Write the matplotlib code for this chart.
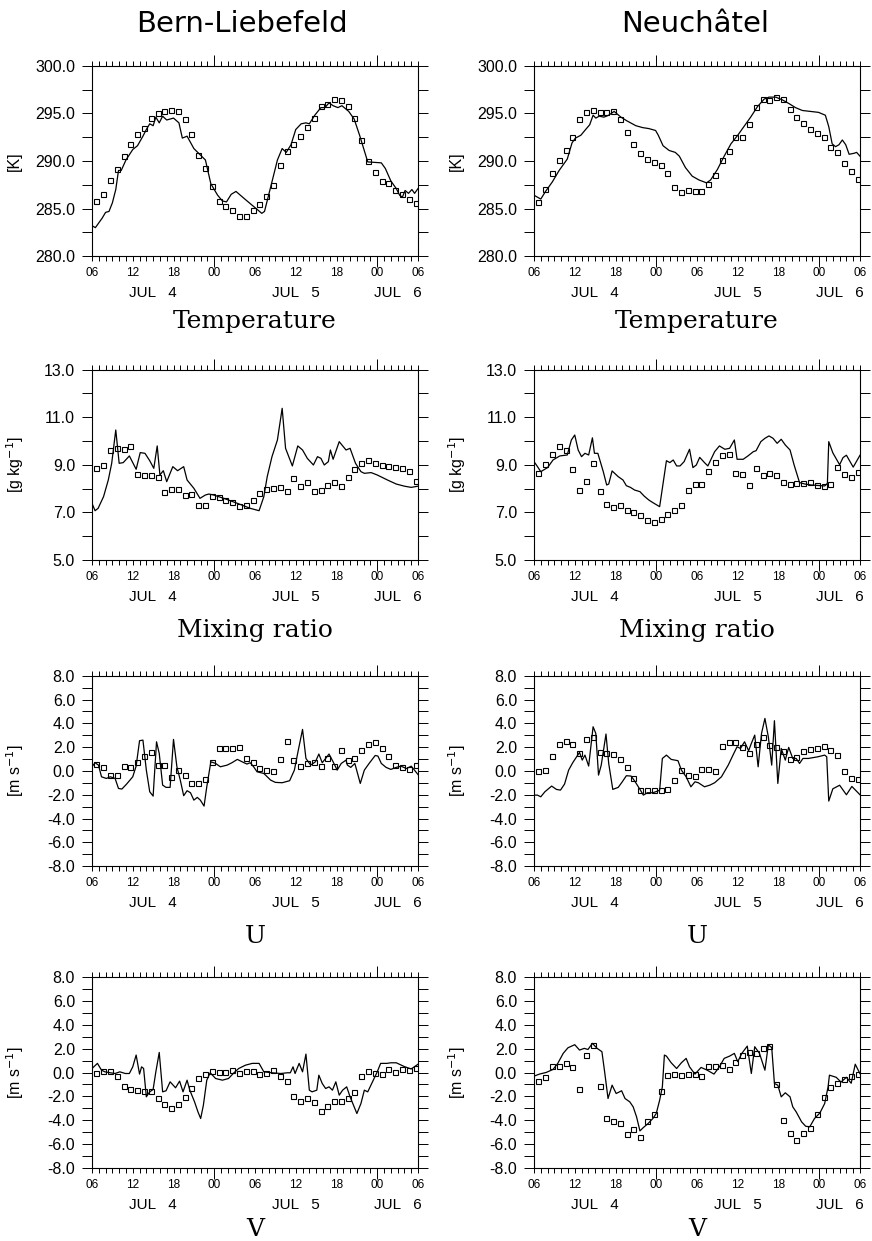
import numpy as np
import matplotlib
matplotlib.use("Agg")
import matplotlib.pyplot as plt
from matplotlib.ticker import MultipleLocator, FixedLocator, FuncFormatter, FormatStrFormatter
from matplotlib.transforms import blended_transform_factory

# time axis: hours since 06 UTC, 4 July (0 .. 48)
obs_hours = np.arange(48) + 0.65
hour_labels = ['06', '12', '18', '00', '06', '12', '18', '00', '06']
midnights = [18, 42]
day_names = ['JUL   4', 'JUL   5', 'JUL   6']
day_edges = [0, 18, 42, 48]

stations = ['Bern-Liebefeld', 'Neuchâtel']
variables = ['Temperature', 'Mixing ratio', 'U', 'V']
units = ['[K]', r'[g kg$^{-1}$]', r'[m s$^{-1}$]', r'[m s$^{-1}$]']
y_limits = [(280, 300), (5, 13), (-8, 8), (-8, 8)]
y_major = [5, 2, 2, 2]
y_minor = [2.5, 1, 1, 1]

# ---- Temperature [K]
bern_t_obs = [285.8, 286.5, 288.0, 289.2, 290.5, 291.8, 292.8, 293.5, 294.5, 295.0,
              295.2, 295.3, 295.2, 294.4, 292.8, 290.6, 289.3, 287.4, 285.8, 285.3,
              284.8, 284.2, 284.2, 284.8, 285.5, 286.3, 287.5, 289.6, 291.0, 291.8,
              292.6, 293.6, 294.5, 295.8, 296.0, 296.5, 296.4, 295.8, 294.5, 292.2,
              290.0, 288.8, 287.9, 287.7, 287.0, 286.5, 286.0, 285.6]
bern_t_mod_h = [0.0, 0.5, 1.5, 2.0, 2.5, 3.0, 3.5, 3.9, 4.3, 5.0, 6.0, 6.7, 7.5, 8.0, 8.5,
                9.0, 9.4, 9.9, 10.4, 11.0, 12.0, 12.8, 13.3, 14.0, 15.0, 16.7, 17.5, 18.5,
                19.2, 19.8, 20.5, 21.2, 22.5, 24.0, 25.0, 25.4, 26.6, 27.3, 28.0, 28.6,
                29.3, 30.0, 30.8, 31.5, 32.0, 32.8, 33.7, 34.3, 34.9, 35.5, 36.2, 36.8,
                37.8, 38.6, 39.4, 40.3, 40.6, 42.6, 43.2, 44.0, 44.8, 45.3, 45.7, 46.1,
                46.6, 47.1, 47.5, 48.0]
bern_t_mod = [283.2, 283.0, 284.0, 284.6, 284.7, 285.6, 287.0, 289.0, 289.0, 290.1, 291.2,
              291.6, 292.6, 293.3, 293.9, 293.7, 294.6, 294.0, 294.7, 294.3, 294.5, 294.0,
              292.4, 292.6, 291.3, 290.1, 287.6, 286.4, 285.8, 285.7, 286.5, 286.8, 286.0,
              285.1, 284.5, 284.7, 288.1, 290.1, 291.3, 290.9, 291.7, 293.3, 293.9, 294.0,
              293.9, 294.8, 295.6, 295.6, 296.1, 295.8, 295.6, 295.8, 295.2, 294.4, 292.7,
              290.6, 289.9, 289.8, 289.2, 287.9, 287.1, 286.4, 286.2, 286.9, 286.6, 287.0,
              286.6, 287.1]

neu_t_obs = [285.7, 287.1, 288.7, 290.1, 291.1, 292.5, 294.4, 295.1, 295.3, 295.1,
             295.1, 295.2, 294.4, 293.0, 291.8, 290.8, 290.2, 289.9, 289.6, 288.7,
             287.3, 286.7, 287.0, 286.8, 286.8, 287.6, 288.5, 290.1, 291.0, 292.5,
             292.5, 293.9, 295.7, 296.5, 296.4, 296.7, 296.5, 295.5, 294.6, 294.0,
             293.4, 292.9, 292.5, 291.5, 290.9, 289.8, 288.9, 288.1]
neu_t_mod_h = [0.0, 0.5, 1.0, 1.7, 2.7, 3.7, 4.9, 5.6, 6.1, 6.9, 7.6, 8.2, 8.7, 9.1, 9.6,
               10.3, 11.0, 11.8, 12.8, 13.7, 15.0, 16.0, 16.9, 17.9, 18.3, 19.0, 19.9,
               20.8, 21.4, 22.3, 23.3, 24.3, 25.4, 26.0, 27.0, 28.0, 29.0, 30.0, 30.9,
               31.9, 32.9, 33.9, 34.6, 35.6, 36.6, 37.6, 38.5, 39.5, 40.7, 41.9, 42.9,
               43.4, 43.9, 44.4, 44.9, 45.4, 45.9, 46.4, 47.1, 47.5, 48.0]
neu_t_mod = [286.4, 286.2, 286.0, 286.8, 287.8, 289.0, 290.2, 291.9, 292.4, 292.7, 293.3,
             293.8, 294.8, 294.5, 294.7, 294.6, 294.8, 295.2, 294.6, 294.2, 293.7, 293.5,
             293.4, 293.2, 292.7, 291.6, 291.1, 290.9, 290.5, 289.3, 288.4, 288.0, 287.7,
             288.0, 289.1, 290.5, 291.8, 292.7, 293.6, 294.6, 295.7, 296.5, 296.7, 296.7,
             296.4, 296.0, 295.6, 295.3, 295.2, 295.1, 294.8, 293.6, 291.8, 291.5, 291.7,
             292.2, 291.7, 290.7, 290.8, 290.9, 290.5]

# ---- Mixing ratio [g/kg]
bern_q_obs = [8.85, 8.99, 9.62, 9.69, 9.66, 9.79, 8.60, 8.57, 8.57, 8.50, 7.87, 7.99,
              7.97, 7.73, 7.76, 7.32, 7.32, 7.69, 7.66, 7.52, 7.43, 7.26, 7.32, 7.52,
              7.83, 7.97, 8.02, 8.08, 7.91, 8.43, 8.10, 8.29, 7.88, 7.94, 8.13, 8.29,
              8.10, 8.50, 8.81, 9.09, 9.20, 9.09, 9.00, 8.96, 8.89, 8.85, 8.75, 8.30]
bern_q_mod_h = [0.0, 0.45, 0.9, 1.7, 2.4, 2.9, 3.5, 4.0, 4.6, 5.5, 6.5, 7.1, 7.8, 8.5, 9.1,
                9.6, 10.0, 10.5, 11.0, 11.9, 12.6, 13.5, 14.0, 15.0, 15.9, 16.7, 17.2,
                17.9, 19.4, 21.4, 23.3, 24.6, 25.3, 25.8, 26.5, 27.3, 28.0, 28.5, 29.5,
                30.3, 31.0, 31.7, 32.6, 33.2, 33.7, 34.2, 34.8, 35.1, 35.5, 36.4, 37.4,
                38.0, 38.8, 39.6, 40.1, 41.1, 42.0, 43.5, 44.8, 46.0, 47.0, 48.0]
bern_q_mod = [7.38, 7.07, 7.17, 7.66, 8.36, 9.06, 10.46, 9.06, 9.09, 9.37, 8.81, 9.51,
              9.48, 9.17, 8.85, 9.79, 8.57, 8.75, 8.29, 8.92, 8.75, 8.92, 8.36, 8.01,
              7.59, 7.73, 7.77, 7.73, 7.59, 7.38, 7.17, 7.07, 7.66, 8.50, 9.34, 10.04,
              11.37, 9.69, 8.95, 9.79, 9.62, 9.27, 8.99, 9.34, 9.27, 8.99, 9.13, 9.62,
              9.23, 9.97, 9.62, 9.69, 9.06, 8.71, 8.64, 8.67, 8.57, 8.36, 8.19, 8.10,
              8.05, 8.10]

neu_q_obs = [8.67, 9.02, 9.44, 9.79, 9.62, 8.82, 7.92, 8.32, 9.09, 7.89, 7.36, 7.22,
             7.33, 7.11, 7.00, 6.88, 6.68, 6.59, 6.73, 6.94, 7.10, 7.32, 7.92, 8.18,
             8.18, 8.74, 9.11, 9.41, 9.44, 8.65, 8.61, 8.13, 8.88, 8.58, 8.67, 8.58,
             8.27, 8.20, 8.25, 8.25, 8.29, 8.15, 8.12, 8.18, 8.90, 8.60, 8.50, 8.70]
neu_q_mod_h = [0.0, 0.35, 1.0, 2.0, 2.8, 3.8, 4.9, 5.5, 6.0, 6.5, 7.0, 7.5, 8.05, 8.6,
               8.9, 9.4, 10.2, 10.7, 11.0, 11.5, 12.4, 13.1, 13.6, 14.2, 14.8, 15.6,
               16.2, 16.9, 17.5, 18.5, 19.5, 20.0, 20.5, 21.0, 21.5, 22.1, 22.9, 23.4,
               23.9, 24.4, 25.1, 25.6, 26.6, 27.3, 28.1, 28.8, 29.5, 29.9, 30.8, 31.5,
               32.3, 32.7, 33.4, 34.0, 34.6, 35.2, 35.8, 36.4, 37.0, 37.7, 38.3, 39.1,
               39.9, 40.8, 41.8, 42.8, 43.2, 43.4, 44.0, 45.0, 45.5, 46.0, 47.0, 48.0]
neu_q_mod = [9.13, 8.99, 8.71, 8.88, 9.20, 9.37, 9.41, 10.04, 10.25, 9.62, 9.34, 9.48,
             9.41, 10.13, 9.48, 9.48, 8.71, 8.15, 8.19, 8.74, 8.50, 8.36, 8.12, 8.05,
             7.94, 7.87, 7.69, 7.52, 7.41, 7.24, 9.17, 9.09, 9.20, 8.95, 8.95, 9.13,
             9.65, 8.88, 8.99, 9.31, 9.09, 8.95, 9.55, 9.79, 9.65, 9.69, 10.04, 9.23,
             9.23, 9.37, 9.55, 9.59, 9.97, 10.11, 10.21, 10.11, 9.90, 10.07, 9.83, 9.62,
             8.99, 8.25, 8.19, 8.15, 8.13, 8.11, 8.22, 9.97, 9.50, 9.00, 9.30, 9.40,
             8.90, 9.40]

# ---- U wind [m/s]
bern_u_obs = [0.58, 0.32, -0.38, -0.38, 0.38, 0.30, 0.77, 1.25, 1.59, 0.49, 0.49, -0.49,
              0.07, -0.32, -1.05, -1.05, -0.66, 0.77, 1.95, 1.95, 1.92, 2.01, 1.11, 0.77,
              0.27, 0.07, 0.01, 1.00, 2.51, 0.94, 0.38, 0.69, 0.72, 0.38, 1.11, 0.38,
              1.73, 0.91, 1.05, 1.73, 2.23, 2.43, 1.92, 1.25, 0.49, 0.30, 0.20, 0.50]
bern_u_mod_h = [0.0, 0.45, 0.95, 1.4, 2.1, 2.7, 3.4, 3.9, 4.4, 5.1, 6.0, 6.5, 7.0, 7.5,
                8.0, 8.5, 9.0, 9.5, 9.9, 10.4, 10.9, 11.5, 12.0, 12.5, 13.0, 13.5, 14.0,
                14.5, 15.0, 15.5, 15.95, 16.5, 16.9, 17.5, 18.2, 18.9, 19.9, 20.6, 21.4,
                22.1, 22.8, 23.3, 23.8, 24.3, 25.3, 26.3, 27.0, 28.0, 29.1, 29.8, 30.3,
                31.0, 31.5, 32.2, 32.9, 33.4, 33.9, 34.4, 34.9, 35.5, 36.1, 36.7, 37.4,
                37.6, 38.1, 38.7, 39.5, 40.1, 40.8, 41.7, 42.1, 42.6, 43.3, 44.0, 44.8,
                45.5, 46.3, 47.0, 48.0]
bern_u_mod = [0.35, 0.69, 0.49, -0.49, -0.63, -0.49, -0.63, -1.47, -1.52, -1.10, -0.49,
              0.41, 2.54, 2.59, 0.07, -1.75, -2.11, 2.45, 1.47, -1.19, -1.38, -1.38, 2.65,
              0.35, -0.77, -2.08, -1.66, -1.83, -2.45, -2.22, -2.45, -2.95, -1.33, 0.77,
              0.63, 0.35, 0.49, 0.69, 0.97, 0.77, 0.58, 0.69, 0.35, -0.07, -0.21, -0.77,
              -0.96, -0.99, -0.82, 0.07, 1.53, 3.49, 1.05, 0.49, 0.77, 1.42, 0.69, 1.05,
              1.42, 0.77, 0.07, 0.63, 0.91, 0.49, 0.30, 0.63, -1.05, 0.07, 0.63, 1.30,
              1.25, 0.63, 0.30, 0.13, 0.30, 0.40, 0.20, 0.40, -0.30]

neu_u_obs = [-0.04, 0.07, 1.25, 2.23, 2.48, 2.23, 1.47, 2.71, 2.82, 1.59, 1.50, 1.39,
             1.00, 0.30, -0.63, -1.61, -1.61, -1.61, -1.58, -1.50, -0.77, 0.07, -0.38,
             -0.43, 0.16, 0.16, -0.01, 2.12, 2.43, 2.43, 1.98, 1.53, 2.29, 2.87, 2.15,
             1.98, 1.70, 0.97, 1.19, 1.70, 1.84, 1.92, 2.12, 1.75, 1.30, 0.00, -0.60,
             -0.70]
neu_u_mod_h = [0.0, 0.5, 1.0, 1.6, 2.6, 3.3, 3.9, 4.5, 5.1, 5.7, 6.7, 7.1, 7.5, 8.05, 8.7,
               9.1, 9.5, 9.9, 10.6, 11.0, 11.6, 12.4, 13.0, 13.6, 14.3, 14.9, 15.6, 16.1,
               16.7, 17.5, 18.2, 18.5, 18.9, 19.5, 20.2, 21.2, 21.7, 22.4, 23.1, 23.7,
               24.2, 25.1, 25.9, 26.6, 27.6, 28.6, 29.3, 29.9, 30.4, 31.0, 31.6, 32.0,
               32.5, 33.0, 33.5, 34.0, 34.5, 35.0, 35.4, 35.9, 36.4, 37.0, 37.5, 38.1,
               38.6, 39.1, 39.6, 40.4, 41.8, 42.8, 43.1, 43.4, 44.0, 45.0, 46.0, 46.8,
               48.0]
neu_u_mod = [-2.03, -2.03, -2.17, -1.75, -1.27, -1.55, -1.61, -1.10, 0.07, 0.69, 1.56,
             0.91, 1.33, 0.41, 3.71, 3.15, -0.35, 0.49, 3.10, 0.63, -1.55, -1.38, -0.91,
             -0.40, -0.43, -0.91, -1.55, -2.03, -1.83, -1.83, -1.69, -1.61, 1.05, 1.33,
             0.97, 0.86, 0.07, -0.49, -1.33, -0.91, -0.99, -1.33, -1.19, -0.99, -0.49,
             0.49, 1.33, 2.03, 1.89, 2.45, 1.70, 2.31, 3.01, 0.35, 3.15, 4.41, 2.87,
             0.49, 4.22, -1.05, 1.89, 0.91, 1.98, 1.05, 1.05, 0.63, 1.05, 1.05, 1.19,
             1.33, 1.19, -2.53, -1.50, -1.20, -2.00, -1.30, -2.00]

# ---- V wind [m/s]
bern_v_obs = [-0.05, 0.12, 0.12, -0.30, -1.17, -1.37, -1.48, -1.53, -1.53, -2.10, -2.60,
              -2.99, -2.63, -2.04, -1.28, -0.44, -0.08, 0.12, 0.04, 0.04, 0.18, -0.05,
              0.12, 0.12, -0.08, -0.05, 0.18, -0.27, -0.72, -1.93, -2.40, -2.10, -2.46,
              -3.25, -2.77, -2.40, -2.40, -2.12, -1.65, -0.30, 0.12, -0.05, -0.08, 0.34,
              0.04, 0.30, 0.20, 0.40]
bern_v_mod_h = [0.0, 0.8, 1.4, 1.9, 2.7, 3.4, 4.1, 4.9, 5.5, 6.0, 6.5, 7.0, 7.3, 7.6, 8.0,
                8.5, 9.0, 9.4, 9.9, 10.4, 10.9, 11.5, 12.3, 12.9, 13.4, 14.0, 14.4, 15.1,
                15.6, 16.0, 16.4, 16.9, 17.4, 18.2, 19.2, 20.1, 20.9, 21.6, 22.6, 23.6,
                24.6, 25.3, 26.5, 27.8, 28.75, 29.2, 29.6, 29.9, 30.5, 31.0, 31.5, 32.0,
                32.4, 33.1, 33.4, 33.9, 34.4, 34.9, 35.4, 35.9, 36.4, 36.9, 37.5, 38.0,
                38.6, 39.0, 39.6, 40.1, 40.6, 41.3, 42.0, 42.5, 43.4, 44.0, 44.8, 46.0,
                47.0, 48.0]
bern_v_mod = [0.34, 0.77, 0.20, 0.06, -0.02, -0.08, 0.06, -0.08, -0.08, 0.48, 1.47,
              -0.13, 0.48, 0.34, -2.04, -1.62, -1.42, 0.06, 1.69, -1.62, -1.53, -0.78,
              -1.28, -0.72, -1.62, -0.64, -1.48, -2.46, -3.30, -3.86, -2.74, -0.64, -0.02,
              -0.50, -0.64, -0.50, -0.02, 0.34, 0.62, 0.77, 0.77, 0.06, -0.02, -0.08,
              -0.02, -0.02, 0.48, -0.08, 0.77, 0.06, 1.55, -1.48, -1.62, -1.48, -0.22,
              -0.92, -1.34, -1.20, -1.48, -0.78, -1.90, -1.48, -1.20, -2.04, -2.88, -3.44,
              -2.60, -1.48, -1.62, -0.78, 0.06, 0.77, 0.77, 0.82, 0.82, 0.50, 0.30, 0.70]

neu_v_obs = [-0.75, -0.36, 0.57, 0.57, 0.77, 0.48, -1.34, 1.47, 2.34, -1.14, -3.78, -4.09,
             -4.25, -5.12, -4.70, -5.38, -4.03, -3.44, -1.51, -0.22, -0.13, -0.24, -0.13,
             -0.13, -0.27, 0.57, 0.57, 0.65, 0.29, 0.91, 1.47, 1.69, 1.61, 2.03, 2.22,
             -0.97, -3.95, -5.07, -5.63, -5.04, -4.62, -3.47, -2.04, -1.20, -0.90, -0.50,
             -0.30, -0.10]
neu_v_mod_h = [0.0, 0.8, 1.8, 2.8, 3.5, 4.3, 5.0, 6.0, 6.7, 7.4, 7.95, 8.6, 9.3, 10.0,
               10.4, 10.9, 11.5, 12.1, 12.9, 13.4, 14.1, 14.6, 15.1, 15.6, 16.1, 16.8,
               17.5, 18.0, 18.5, 18.9, 19.2, 19.5, 20.2, 21.0, 21.7, 22.4, 22.9, 23.7,
               24.6, 25.5, 26.5, 27.3, 28.0, 28.8, 29.5, 30.0, 30.6, 31.4, 32.0, 32.5,
               33.2, 34.0, 34.5, 35.0, 35.4, 35.9, 36.4, 37.0, 37.7, 38.1, 38.6, 39.4,
               40.0, 40.6, 41.3, 42.1, 42.8, 43.3, 43.5, 44.5, 45.2, 46.0, 46.7, 47.3,
               48.0]
neu_v_mod = [-0.30, -0.13, 0.01, 0.26, 0.77, 1.61, 2.08, 2.34, 1.89, 2.03, 1.94, 2.45,
             2.03, 1.75, 0.06, -2.18, -1.06, -1.76, -1.53, -2.18, -2.46, -2.88, -3.72,
             -4.90, -4.62, -4.28, -3.86, -3.44, -2.32, -1.20, 1.47, 1.38, 0.82, 0.34,
             0.82, 1.19, 0.48, -0.13, 0.43, 0.20, -0.13, 0.48, 1.19, 1.38, 1.61, 0.91,
             1.61, 2.22, -0.08, 2.17, 1.61, 0.20, 2.31, 2.11, -0.92, -1.06, -2.04, -1.70,
             -2.04, -2.88, -3.30, -4.14, -4.51, -4.56, -3.86, -3.39, -2.60, -1.20, -0.22,
             -0.40, -0.80, -0.40, -0.90, 0.70, -0.10]

panels = [
    [(bern_t_obs, bern_t_mod_h, bern_t_mod), (neu_t_obs, neu_t_mod_h, neu_t_mod)],
    [(bern_q_obs, bern_q_mod_h, bern_q_mod), (neu_q_obs, neu_q_mod_h, neu_q_mod)],
    [(bern_u_obs, bern_u_mod_h, bern_u_mod), (neu_u_obs, neu_u_mod_h, neu_u_mod)],
    [(bern_v_obs, bern_v_mod_h, bern_v_mod), (neu_v_obs, neu_v_mod_h, neu_v_mod)],
]

TICK_FONT = 'Liberation Sans'
W, H = 872, 1241
col_left = [92, 534]
col_width = 326
row_top = [65.7, 369.5, 675.7, 977.3]
row_height = 190.5
title_drop = [72, 77, 77, 68]   # px from axis bottom to the row title baseline

fig = plt.figure(figsize=(W / 100, H / 100), dpi=100)


def hour_fmt(x, pos):
    h = int(round(x))
    if h % 6 == 0 and 0 <= h <= 48:
        return hour_labels[h // 6]
    return ''


for r in range(4):
    for c in range(2):
        obs, mod_h, mod = panels[r][c]
        ax = fig.add_axes([col_left[c] / W, 1 - (row_top[r] + row_height) / H,
                           col_width / W, row_height / H])
        ax.plot(mod_h, mod, color='black', lw=0.9, zorder=2)
        ax.plot(obs_hours, obs, ls='none', marker='s', ms=3.6, mfc='none',
                mec='black', mew=0.8, zorder=3)

        lo, hi = y_limits[r]
        ax.set_xlim(0, 48)
        ax.set_ylim(lo, hi)

        # x axis: hourly ticks, long ticks at midnight
        ax.xaxis.set_major_locator(FixedLocator(midnights))
        ax.xaxis.set_major_formatter(FuncFormatter(hour_fmt))
        ax.xaxis.set_minor_locator(MultipleLocator(1))
        ax.xaxis.set_minor_formatter(FuncFormatter(hour_fmt))
        ax.tick_params(axis='x', which='minor', direction='out', length=3.3, width=0.7,
                       top=True, bottom=True, labeltop=False, pad=4.5, labelsize=8.5)
        ax.tick_params(axis='x', which='major', direction='out', length=7.6, width=0.7,
                       top=True, bottom=True, labeltop=False, pad=0.2, labelsize=8.5)

        # y axis, labelled from the lower limit upward
        ax.set_yticks(np.arange(lo, hi + 1e-6, y_major[r]))
        ax.set_yticks(np.arange(lo, hi + 1e-6, y_minor[r]), minor=True)
        ax.yaxis.set_major_formatter(FormatStrFormatter('%.1f'))
        ax.tick_params(axis='y', which='both', direction='out', length=7.2, width=0.7,
                       left=True, right=True, labelright=False, pad=5, labelsize=11.5)

        for lab in ax.get_xticklabels(which='both') + ax.get_yticklabels():
            lab.set_fontfamily(TICK_FONT)
        for sp in ax.spines.values():
            sp.set_linewidth(0.8)

        # day labels centred on the visible part of each day
        tr = blended_transform_factory(ax.transData, ax.transAxes)
        for i, name in enumerate(day_names):
            mid = (day_edges[i] + day_edges[i + 1]) / 2
            ax.text(mid, -0.195, name, transform=tr, ha='center', va='center',
                    fontsize=11, family=TICK_FONT)

        ax.text(-0.237, 0.5, units[r], transform=ax.transAxes, rotation=90,
                ha='center', va='center', fontsize=11.5, family=TICK_FONT)
        ax.text(0.5, -title_drop[r] / row_height, variables[r], transform=ax.transAxes,
                ha='center', va='baseline', fontsize=18, family='DejaVu Serif')

# station titles
fig.text(242 / W, 1 - 31.7 / H, stations[0], ha='center', va='baseline',
         fontsize=21, family='DejaVu Sans')
fig.text(695 / W, 1 - 31.7 / H, stations[1], ha='center', va='baseline',
         fontsize=21, family='DejaVu Sans')

fig.savefig('out.png', dpi=100)
